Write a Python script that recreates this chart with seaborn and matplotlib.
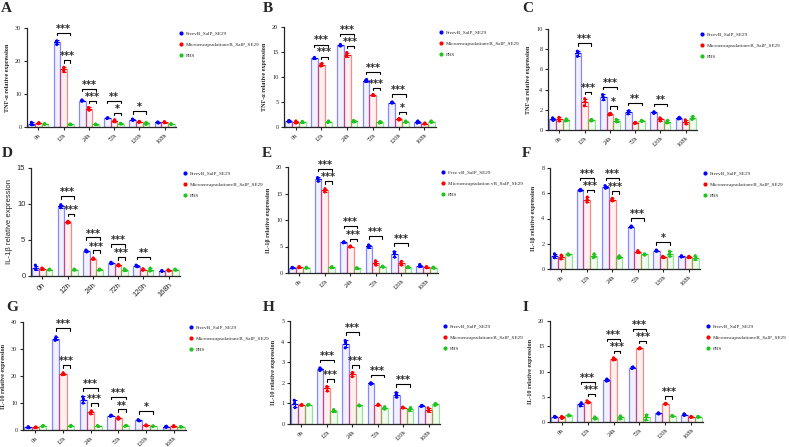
import numpy as np
import pandas as pd
import matplotlib
matplotlib.use("Agg")
import matplotlib.pyplot as plt
from matplotlib.lines import Line2D
from matplotlib.colors import to_rgba
import seaborn as sns

times = ["0h", "12h", "24h", "72h", "120h", "168h"]
groups = ["FreevB_SalP_SE29", "MicroencapsulationvB_SalP_SE29", "PBS"]
groups_e = ["Free vB_SalP_SE29", "Microencapsulation vB_SalP_SE29", "PBS"]
colors = ["#0000ff", "#ff0000", "#1ec51e"]

# replicates (3 per time point)
a_free = [[0.7, 1.0, 1.4], [25.0, 25.9, 26.1], [7.8, 8.0, 8.2], [2.6, 2.7, 2.8], [2.0, 2.2, 2.4], [1.2, 1.4, 1.5]]
a_micro = [[1.0, 1.2, 1.3], [16.8, 17.4, 18.1], [5.1, 5.7, 5.9], [1.6, 1.9, 2.2], [1.4, 1.6, 1.7], [1.3, 1.5, 1.6]]
a_pbs = [[0.8, 0.9, 1.0], [0.7, 0.8, 0.9], [0.7, 0.8, 0.9], [0.9, 1.0, 1.1], [0.8, 1.1, 1.4], [0.8, 0.9, 1.0]]

b_free = [[1.0, 1.2, 1.3], [13.7, 13.8, 13.9], [16.2, 16.3, 16.5], [9.1, 9.3, 9.5], [4.8, 4.9, 5.0], [0.8, 1.0, 1.2]]
b_micro = [[0.8, 1.0, 1.2], [12.2, 12.5, 12.7], [14.1, 14.4, 14.9], [6.3, 6.4, 6.5], [1.4, 1.6, 1.7], [0.6, 0.7, 0.8]]
b_pbs = [[0.9, 1.0, 1.1], [0.9, 1.1, 1.2], [1.0, 1.2, 1.3], [0.8, 1.0, 1.1], [0.9, 1.1, 1.2], [0.9, 1.1, 1.2]]

c_free = [[0.95, 1.1, 1.2], [7.3, 7.7, 7.8], [3.0, 3.3, 3.5], [1.6, 1.85, 1.9], [1.65, 1.75, 1.8], [1.1, 1.2, 1.25]]
c_micro = [[0.9, 1.1, 1.25], [2.4, 2.8, 3.1], [1.5, 1.6, 1.65], [0.65, 0.7, 0.75], [0.9, 1.1, 1.2], [0.6, 0.8, 1.0]]
c_pbs = [[0.9, 1.0, 1.1], [0.9, 1.0, 1.05], [0.8, 0.95, 1.05], [0.85, 0.9, 0.95], [0.7, 0.8, 0.95], [1.05, 1.2, 1.35]]

d_free = [[0.9, 1.0, 1.5], [9.5, 9.7, 9.9], [3.35, 3.5, 3.6], [1.7, 1.8, 1.9], [1.3, 1.4, 1.5], [0.65, 0.7, 0.75]]
d_micro = [[0.9, 1.0, 1.1], [7.35, 7.5, 7.6], [2.3, 2.4, 2.5], [1.4, 1.5, 1.6], [0.8, 0.9, 1.0], [0.7, 0.8, 0.85]]
d_pbs = [[0.85, 0.9, 0.95], [0.8, 0.9, 0.95], [0.8, 0.9, 0.95], [0.75, 0.9, 1.0], [0.7, 0.9, 1.1], [0.8, 0.9, 0.95]]

e_free = [[0.95, 1.0, 1.05], [17.3, 17.8, 18.0], [5.7, 5.8, 5.9], [4.8, 5.0, 5.3], [3.0, 3.8, 4.0], [1.2, 1.4, 1.6]]
e_micro = [[1.0, 1.1, 1.2], [15.3, 15.6, 15.9], [4.9, 5.0, 5.1], [1.5, 1.8, 2.3], [1.5, 1.8, 2.2], [1.0, 1.1, 1.2]]
e_pbs = [[0.9, 1.0, 1.1], [1.0, 1.1, 1.2], [0.85, 0.9, 1.0], [1.1, 1.2, 1.3], [1.0, 1.1, 1.2], [0.9, 1.0, 1.1]]

f_free = [[0.9, 1.05, 1.2], [6.2, 6.25, 6.3], [6.4, 6.5, 6.6], [3.3, 3.35, 3.4], [1.4, 1.45, 1.5], [0.95, 1.0, 1.05]]
f_micro = [[0.8, 0.95, 1.1], [5.3, 5.5, 5.7], [5.4, 5.5, 5.6], [1.3, 1.35, 1.45], [0.9, 0.95, 1.0], [0.9, 0.95, 1.0]]
f_pbs = [[1.1, 1.15, 1.2], [0.9, 1.1, 1.2], [0.85, 0.95, 1.05], [1.1, 1.15, 1.2], [1.0, 1.2, 1.4], [0.75, 0.9, 1.05]]

g_free = [[0.9, 1.0, 1.2], [33.2, 33.8, 34.5], [10.0, 11.5, 12.3], [5.1, 5.3, 5.5], [3.4, 3.6, 3.8], [1.0, 1.2, 1.4]]
g_micro = [[0.9, 1.0, 1.1], [20.5, 20.8, 21.2], [6.0, 6.4, 7.1], [4.0, 4.4, 4.8], [1.5, 1.7, 1.9], [1.2, 1.4, 1.6]]
g_pbs = [[1.3, 1.5, 1.6], [1.3, 1.5, 1.7], [1.3, 1.5, 1.6], [1.4, 1.6, 1.7], [1.3, 1.4, 1.5], [1.1, 1.2, 1.3]]

h_free = [[0.8, 1.0, 1.15], [2.6, 2.68, 2.72], [3.7, 3.95, 4.05], [1.93, 1.97, 2.0], [1.3, 1.45, 1.52], [0.85, 0.88, 0.9]]
h_micro = [[0.9, 0.92, 0.94], [1.6, 1.75, 1.82], [2.3, 2.45, 2.5], [0.9, 0.93, 0.96], [0.78, 0.8, 0.82], [0.62, 0.65, 0.78]]
h_pbs = [[0.91, 0.93, 0.95], [0.6, 0.65, 0.7], [0.88, 0.9, 0.92], [0.72, 0.78, 0.84], [0.65, 0.72, 0.8], [0.9, 0.95, 1.0]]

i_free = [[0.9, 1.0, 1.1], [3.2, 3.5, 3.8], [8.1, 8.3, 8.5], [10.6, 10.8, 10.9], [1.6, 1.7, 1.8], [1.3, 1.5, 1.6]]
i_micro = [[0.7, 0.9, 1.1], [3.8, 4.0, 4.2], [12.3, 12.5, 12.7], [14.5, 14.6, 14.7], [3.5, 3.6, 3.7], [0.9, 1.0, 1.1]]
i_pbs = [[1.2, 1.3, 1.4], [0.6, 0.8, 1.0], [0.6, 0.9, 1.2], [0.4, 1.2, 1.4], [1.1, 1.2, 1.3], [0.9, 1.0, 1.1]]

# significance: time -> (Free vs PBS, Micro vs PBS)
a_sig = {"12h": ("***", "***"), "24h": ("***", "***"), "72h": ("**", "*"), "120h": ("*", None)}
b_sig = {"12h": ("***", "***"), "24h": ("***", "***"), "72h": ("***", "***"), "120h": ("***", "*")}
c_sig = {"12h": ("***", "***"), "24h": ("***", "*"), "72h": ("**", None), "120h": ("**", None)}
d_sig = {"12h": ("***", "***"), "24h": ("***", "***"), "72h": ("***", "***"), "120h": ("**", None)}
e_sig = {"12h": ("***", "***"), "24h": ("***", "***"), "72h": ("***", None), "120h": ("***", None)}
f_sig = {"12h": ("***", "***"), "24h": ("***", "***"), "72h": ("***", None), "120h": ("*", None)}
g_sig = {"12h": ("***", "***"), "24h": ("***", "***"), "72h": ("***", "**"), "120h": ("*", None)}
h_sig = {"12h": ("***", "***"), "24h": ("***", "***"), "72h": ("***", None), "120h": ("***", None)}
i_sig = {"12h": ("***", "***"), "24h": ("***", "***"), "72h": ("***", "***"), "120h": (None, "***")}

tnf = "TNF-α relative expression"
il1 = "IL-1β relative expression"
il10 = "IL-10 relative expression"

W, H = 789, 447


def box(l, r, t, b):
    return [l / W, 1 - b / H, (r - l) / W, (b - t) / H]


panels = [
    ("A", (1, 2), box(27, 176, 28, 127), a_free, a_micro, a_pbs, a_sig, 30, 10, tnf, groups, False),
    ("B", (263, 2), box(284, 436, 27, 127), b_free, b_micro, b_pbs, b_sig, 20, 5, tnf, groups, False),
    ("C", (522, 2), box(548, 697, 29, 130), c_free, c_micro, c_pbs, c_sig, 10, 2, tnf, groups, False),
    ("D", (2, 147), box(31, 180, 168, 276), d_free, d_micro, d_pbs, d_sig, 15, 5, il1, groups, True),
    ("E", (262, 147), box(288, 438, 167, 273), e_free, e_micro, e_pbs, e_sig, 20, 5, il1, groups_e, False),
    ("F", (522, 147), box(550, 700, 168, 269), f_free, f_micro, f_pbs, f_sig, 8, 2, il1, groups, False),
    ("G", (6, 301), box(23, 186, 322, 430), g_free, g_micro, g_pbs, g_sig, 40, 10, il10, groups, False),
    ("H", (263, 301), box(290, 440, 321, 424), h_free, h_micro, h_pbs, h_sig, 5, 1, il10, groups, False),
    ("I", (523, 301), box(550, 703, 321, 422), i_free, i_micro, i_pbs, i_sig, 20, 5, il10, groups, False),
]

sns.set_style("ticks")
plt.rcParams["font.family"] = ["Liberation Serif", "DejaVu Serif"]
np.random.seed(3)

fig = plt.figure(figsize=(W / 100, H / 100), dpi=100)

for letter, lpos, rect, free, micro, pbs, sig, ymax, step, ylab, names, sans in panels:
    ax = fig.add_axes(rect)
    rows = []
    for g, vals in zip(names, [free, micro, pbs]):
        for t, reps in zip(times, vals):
            for v in reps:
                rows.append((t, g, v))
    df = pd.DataFrame(rows, columns=["time", "group", "value"])
    pal = dict(zip(names, colors))

    sns.barplot(data=df, x="time", y="value", hue="group", order=times, hue_order=names,
                palette=pal, errorbar=None, width=0.8, legend=False, ax=ax)
    stats = df.groupby(["group", "time"])["value"].agg(["mean", "std", "max"])
    centers = {}
    for cont, g, c in zip(ax.containers, names, colors):
        for bar, t in zip(cont, times):
            bar.set_facecolor(to_rgba(c, 0.06))
            bar.set_edgecolor(to_rgba(c, 0.45))
            bar.set_linewidth(0.9)
            x = bar.get_x() + bar.get_width() / 2
            centers[(g, t)] = x
            m, s = stats.loc[(g, t), "mean"], stats.loc[(g, t), "std"]
            ax.errorbar(x, m, yerr=s, fmt="none", ecolor=c, elinewidth=0.7,
                        capsize=1.5, capthick=0.7, zorder=3)
            ax.plot([x - 0.1, x + 0.1], [m, m], color=c, lw=0.8, zorder=3)
    sns.stripplot(data=df, x="time", y="value", hue="group", order=times, hue_order=names,
                  palette=pal, dodge=True, jitter=0.07, size=2.3, legend=False, ax=ax,
                  zorder=4, linewidth=0)

    # significance brackets
    leg = 0.025 * ymax
    for t, (lab_long, lab_short) in sig.items():
        xf, xm, xp = (centers[(g, t)] for g in names)
        tf, tm, tp = (stats.loc[(g, t), "max"] for g in names)
        short_y = max(tm, tp) + 0.07 * ymax
        if lab_short:
            ax.plot([xm, xm, xp, xp], [short_y - leg, short_y, short_y, short_y - leg],
                    color="k", lw=0.8, clip_on=False)
            ax.text((xm + xp) / 2, short_y - 0.01 * ymax, lab_short, ha="center", va="bottom",
                    fontsize=7, fontweight="bold", family="DejaVu Sans", clip_on=False)
        if lab_long:
            long_y = max(tf, tm, tp) + 0.08 * ymax
            if lab_short:
                long_y = max(long_y, short_y + 0.12 * ymax)
            ax.plot([xf, xf, xp, xp], [long_y - leg, long_y, long_y, long_y - leg],
                    color="k", lw=0.8, clip_on=False)
            ax.text((xf + xp) / 2, long_y - 0.01 * ymax, lab_long, ha="center", va="bottom",
                    fontsize=7, fontweight="bold", family="DejaVu Sans", clip_on=False)

    ax.set_xlim(-0.45, 5.45)
    ax.set_ylim(0, ymax)
    ax.set_yticks(np.arange(0, ymax + step / 2, step))
    sns.despine(ax=ax)
    for sp in ["left", "bottom"]:
        ax.spines[sp].set_linewidth(0.9)
    tick_font = {"family": "Liberation Sans", "size": 5.5} if sans else {"size": 4.5}
    ax.tick_params(length=2.5, width=0.8, pad=1.5)
    ax.set_xlabel("")
    ax.set_xticks(range(len(times)))
    ax.set_xticklabels(times, rotation=45, ha="right", rotation_mode="anchor", **tick_font)
    ax.set_yticklabels([str(int(v)) for v in ax.get_yticks()], **tick_font)
    if sans:
        ax.set_ylabel(ylab, fontsize=5.6, family="Liberation Sans", labelpad=3)
    else:
        ax.set_ylabel(ylab, fontsize=4.4, fontweight="bold", labelpad=4)

    handles = [Line2D([], [], marker="o", ls="none", color=c, markersize=2.0) for c in colors]
    ax.legend(handles, names, loc="upper left", bbox_to_anchor=(1.0, 1.0), frameon=False,
              prop={"size": 3.7}, handletextpad=0.6, labelspacing=1.3, handlelength=0.8,
              borderaxespad=0.2)

    fig.text(lpos[0] / W, 1 - lpos[1] / H, letter, ha="left", va="top",
             fontsize=11, fontweight="bold")

fig.savefig("out.png", dpi=100)
